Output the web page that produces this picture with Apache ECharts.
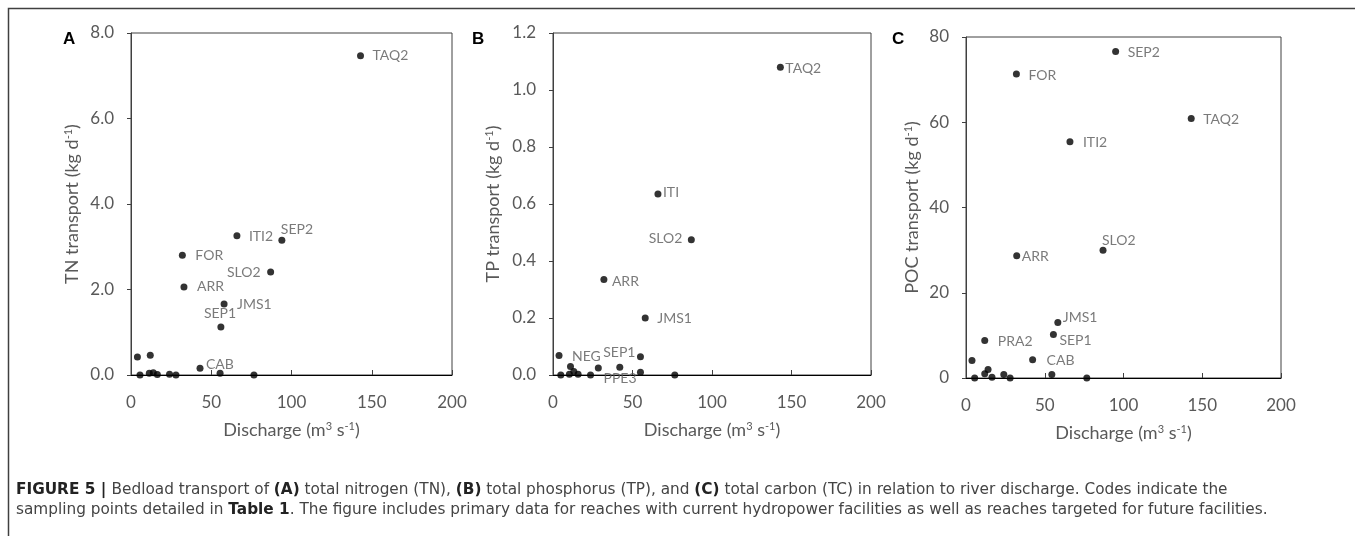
<!DOCTYPE html>
<html>
<head>
<meta charset="utf-8">
<script src="https://cdn.jsdelivr.net/npm/echarts@6/dist/echarts.min.js"></script>
<style>
  html, body { margin: 0; padding: 0; background: #fff; }
  #main { width: 1355px; height: 536px; }
</style>
</head>
<body>
<div id="main"></div>
<script>
// panel A: total nitrogen
var tnCode = ['TAQ2', 'ITI2', 'SEP2', 'FOR', 'SLO2', 'ARR', 'JMS1', 'SEP1', 'CAB', '', '', '', '', '', '', '', '', '', ''];
var tnQ = [143, 66, 94, 32, 87, 33, 58, 56, 43, 4, 12, 5.6, 11.4, 13.9, 16.4, 24, 28, 55.5, 76.6];
var tnLoad = [7.47, 3.26, 3.15, 2.80, 2.41, 2.06, 1.66, 1.12, 0.16, 0.42, 0.46, 0, 0.04, 0.05, 0.01, 0.02, 0, 0.04, 0];

// panel B: total phosphorus
var tpCode = ['TAQ2', 'ITI', 'SLO2', 'ARR', 'JMS1', 'NEG', 'SEP1', 'PPE3', '', '', '', '', '', '', '', '', ''];
var tpQ = [143, 66, 87, 32, 58, 3.8, 55, 23.6, 4.9, 10.3, 11, 13.1, 15.8, 28.5, 42, 55, 76.6];
var tpLoad = [1.08, 0.635, 0.475, 0.335, 0.2, 0.068, 0.064, 0, 0, 0.003, 0.03, 0.012, 0.003, 0.025, 0.027, 0.01, 0];

// panel C: particulate organic carbon
var pocCode = ['SEP2', 'FOR', 'TAQ2', 'ITI2', 'SLO2', 'ARR', 'JMS1', 'SEP1', 'PRA2', 'CAB', '', '', '', '', '', '', '', '', ''];
var pocQ = [95, 32, 143, 66, 87, 32.2, 58.3, 55.5, 11.9, 42.3, 3.8, 5.5, 11.9, 14, 16.5, 24, 28, 54.5, 76.7];
var pocLoad = [76.6, 71.3, 60.9, 55.4, 30.0, 28.7, 13.0, 10.2, 8.8, 4.3, 4.1, 0, 1.0, 2.0, 0.2, 0.8, 0, 0.8, 0];

// axis ticks
var qTicks = [0, 200, 50];
var tnTicks = [0, 8, 2];
var tpTicks = [0, 1.2, 0.2];
var pocTicks = [0, 80, 20];

// where each code label sits relative to its dot: [dx, dy, align]
var spotA = { TAQ2: [12, 0, 'left'], ITI2: [12, 1, 'left'], SEP2: [-1, -11, 'left'], FOR: [13, 0, 'left'],
  SLO2: [-10, 1, 'right'], ARR: [13, 0, 'left'], JMS1: [13, 0, 'left'], SEP1: [-17, -14, 'left'], CAB: [6, -4, 'left'] };
var spotB = { TAQ2: [5, 1, 'left'], ITI: [5, -2, 'left'], SLO2: [-9, -1, 'right'], ARR: [8, 2, 'left'],
  JMS1: [12, 0, 'left'], NEG: [13, 1, 'left'], SEP1: [-5, -4, 'right'], PPE3: [13, 3, 'left'] };
var spotC = { SEP2: [12, 1, 'left'], FOR: [12, 1, 'left'], TAQ2: [12, 1, 'left'], ITI2: [13, 1, 'left'],
  SLO2: [-1, -10, 'left'], ARR: [5, 1, 'left'], JMS1: [5, -5, 'left'], SEP1: [6, 6, 'left'],
  PRA2: [13, 1, 'left'], CAB: [14, 1, 'left'] };

var grey = '#595959';
var chartFont = 'Lato, "Open Sans", sans-serif';
var captionFont = '"DejaVu Sans", "Liberation Sans", Arial';

function points(code, q, load, spot) {
  return q.map(function (v, i) {
    var item = { name: code[i], value: [v, load[i]] };
    var s = spot[code[i]];
    if (s) {
      item.label = {
        show: true, position: 'inside', offset: [s[0], s[1]],
        align: s[2], verticalAlign: 'middle',
        formatter: '{b}', color: grey, fontSize: 14, fontFamily: chartFont
      };
    }
    return item;
  });
}

var titleRich = {
  a: { fontSize: 18, color: grey, fontFamily: chartFont },
  s: { fontSize: 11, color: grey, fontFamily: chartFont, verticalAlign: 'top' }
};

function xAx(idx) {
  return {
    gridIndex: idx, type: 'value', min: qTicks[0], max: qTicks[1], interval: qTicks[2],
    name: '{a|Discharge (m}{s|3}{a| s}{s|-1}{a|)}', nameLocation: 'middle', nameGap: 46,
    nameTextStyle: { rich: titleRich },
    axisLine: { lineStyle: { color: '#000', width: 1 } },
    axisTick: { inside: true, length: 5, lineStyle: { color: '#404040' } },
    axisLabel: { color: grey, fontSize: 17, fontFamily: chartFont, margin: 19 },
    splitLine: { show: false }
  };
}

function yAx(idx, ticks, title, digits, gap) {
  return {
    gridIndex: idx, type: 'value', min: ticks[0], max: ticks[1], interval: ticks[2],
    name: '{a|' + title + ' (kg d}{s|-1}{a|)}', nameLocation: 'middle', nameGap: gap,
    nameTextStyle: { rich: titleRich },
    axisLine: { show: true, lineStyle: { color: '#404040', width: 1 } },
    axisTick: { show: true, length: 4, lineStyle: { color: '#404040' } },
    axisLabel: {
      color: grey, fontSize: 17, fontFamily: chartFont, margin: 17,
      formatter: function (v) { return v.toFixed(digits); }
    },
    splitLine: { show: false }
  };
}

var captionRich = {
  b: { fontSize: 15.3, fontWeight: 'bold', fill: '#222', fontFamily: captionFont },
  n: { fontSize: 15.3, fill: '#444', fontFamily: captionFont }
};

var chartDom = document.getElementById('main');
var myChart = echarts.init(chartDom);
var option;

option = {
  animation: false,
  backgroundColor: '#fff',
  grid: [
    { left: 131, top: 33, width: 321, height: 342, show: true, borderColor: '#404040', borderWidth: 1 },
    { left: 553, top: 33, width: 318, height: 342, show: true, borderColor: '#404040', borderWidth: 1 },
    { left: 966, top: 37, width: 315, height: 341, show: true, borderColor: '#404040', borderWidth: 1 }
  ],
  xAxis: [xAx(0), xAx(1), xAx(2)],
  yAxis: [
    yAx(0, tnTicks, 'TN transport', 1, 50),
    yAx(1, tpTicks, 'TP transport', 1, 51),
    yAx(2, pocTicks, 'POC transport', 0, 45)
  ],
  series: [
    { type: 'scatter', xAxisIndex: 0, yAxisIndex: 0, symbolSize: 7, itemStyle: { color: '#000' },
      data: points(tnCode, tnQ, tnLoad, spotA) },
    { type: 'scatter', xAxisIndex: 1, yAxisIndex: 1, symbolSize: 7, itemStyle: { color: '#000' },
      data: points(tpCode, tpQ, tpLoad, spotB) },
    { type: 'scatter', xAxisIndex: 2, yAxisIndex: 2, symbolSize: 7, itemStyle: { color: '#000' },
      data: points(pocCode, pocQ, pocLoad, spotC) }
  ],
  graphic: [
    { type: 'rect', shape: { x: 8.5, y: 8.5, width: 1500, height: 700 }, silent: true,
      style: { fill: null, stroke: '#404040', lineWidth: 1.5 } },
    { type: 'text', left: 63, top: 31, style: { text: 'A', font: 'bold 17px "Liberation Sans", Arial', fill: '#000' } },
    { type: 'text', left: 472, top: 31, style: { text: 'B', font: 'bold 17px "Liberation Sans", Arial', fill: '#000' } },
    { type: 'text', left: 892, top: 31, style: { text: 'C', font: 'bold 17px "Liberation Sans", Arial', fill: '#000' } },
    { type: 'text', left: 16, top: 483, style: {
      text: '{b|FIGURE 5 | }{n|Bedload transport of }{b|(A)}{n| total nitrogen (TN), }{b|(B)}{n| total phosphorus (TP), and }{b|(C)}{n| total carbon (TC) in relation to river discharge. Codes indicate the}',
      rich: captionRich } },
    { type: 'text', left: 16, top: 503, style: {
      text: '{n|sampling points detailed in }{b|Table 1}{n|. The figure includes primary data for reaches with current hydropower facilities as well as reaches targeted for future facilities.}',
      rich: captionRich } }
  ]
};

option && myChart.setOption(option);
</script>
</body>
</html>
